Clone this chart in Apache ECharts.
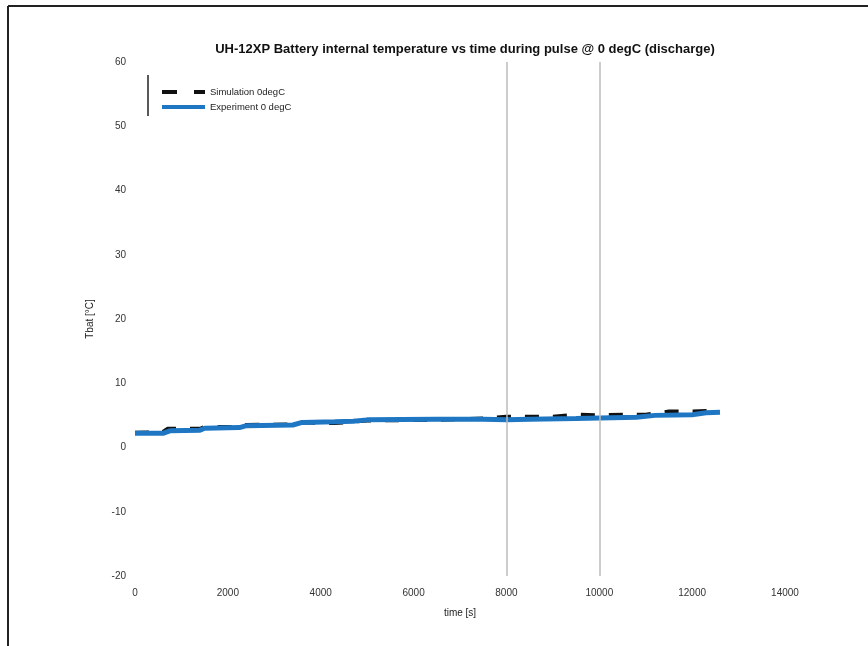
<!DOCTYPE html>
<html><head><meta charset="utf-8">
<script src="https://cdn.jsdelivr.net/npm/echarts@6/dist/echarts.min.js"></script>
<style>html,body{margin:0;padding:0;background:#fff}#c{width:868px;height:646px}</style>
</head><body><div id="c"></div>
<script>
const titleText = 'UH-12XP Battery internal temperature vs time during pulse @ 0 degC (discharge)';
const seriesNames = ['Simulation 0degC', 'Experiment 0 degC'];
const xTicks = [0, 2000, 4000, 6000, 8000, 10000, 12000, 14000];
const yTicks = [-20, -10, 0, 10, 20, 30, 40, 50, 60];
const markTimes = [8000, 10000];
const simulation = [[0,2.3],[600,2.4],[700,2.9],[1400,2.9],[1500,3.2],[2250,3.2],[2400,3.5],[3400,3.6],[3600,3.9],[4300,3.8],[5000,4.2],[6500,4.3],[7500,4.5],[8000,4.8],[8500,4.8],[9000,4.8],[9500,5.1],[10000,5.0],[10500,5.1],[11000,5.1],[11500,5.6],[12000,5.6],[12500,5.7],[12600,5.8]];
const experiment = [[0,2.2],[600,2.2],[750,2.6],[1400,2.7],[1500,3.0],[2250,3.1],[2400,3.4],[3400,3.5],[3600,3.9],[4300,4.0],[4700,4.1],[5000,4.3],[6500,4.4],[7500,4.4],[8000,4.3],[8500,4.4],[9500,4.5],[10000,4.6],[10800,4.7],[11200,5.0],[12000,5.1],[12300,5.4],[12600,5.5]];

const chart = echarts.init(document.getElementById('c'), null, {renderer:'canvas'});
const font = 'Liberation Sans, Arial, sans-serif';
chart.setOption({
  backgroundColor:'#fff',
  animation:false,
  title:{text:titleText, left:460, top:38, textAlign:'center',
    textStyle:{fontFamily:font, fontSize:13, fontWeight:'bold', color:'#111'}},
  legend:{left:157, top:82, orient:'vertical', itemGap:5, itemWidth:43, itemHeight:4,
    textStyle:{fontFamily:font, fontSize:9.5, color:'#222'},
    data:[
      {name:seriesNames[0], icon:'path://M0,0H15V4H0Z M32,0H43V4H32Z', itemStyle:{color:'#111'}},
      {name:seriesNames[1], icon:'rect', itemStyle:{color:'#1f77c4'}}
    ]},
  grid:{left:135, right:83, top:62, bottom:70},
  xAxis:{type:'value', min:xTicks[0], max:xTicks[xTicks.length-1], interval:2000,
    name:'time [s]', nameLocation:'middle', nameGap:32,
    nameTextStyle:{fontFamily:font, fontSize:10, color:'#222'},
    axisLine:{show:false}, axisTick:{show:false}, splitLine:{show:false},
    axisLabel:{fontFamily:font, fontSize:10, color:'#333', margin:12, formatter:v=>String(v)}},
  yAxis:{type:'value', min:yTicks[0], max:yTicks[yTicks.length-1], interval:10,
    name:'Tbat [°C]', nameLocation:'middle', nameGap:40,
    nameTextStyle:{fontFamily:font, fontSize:10, color:'#222'},
    axisLine:{show:false}, axisTick:{show:false}, splitLine:{show:false},
    axisLabel:{fontFamily:font, fontSize:10, color:'#333', margin:9}},
  series:[
    {name:seriesNames[1], type:'line', data:experiment, symbol:'none', z:2,
      lineStyle:{color:'#1f77c4', width:5}, itemStyle:{color:'#1f77c4'},
      markLine:{silent:true, symbol:'none', label:{show:false},
        lineStyle:{color:'#bbb', width:1.5, type:'solid'},
        data:markTimes.map(t=>({xAxis:t}))}},
    {name:seriesNames[0], type:'line', data:simulation, symbol:'none', z:1,
      lineStyle:{color:'#111', width:4, type:[14,14]}, itemStyle:{color:'#111'}}
  ],
  graphic:[
    {type:'line', shape:{x1:8,y1:6,x2:868,y2:6}, style:{stroke:'#222', lineWidth:2}},
    {type:'line', shape:{x1:8,y1:6,x2:8,y2:646}, style:{stroke:'#222', lineWidth:2}},
    {type:'line', shape:{x1:148,y1:75,x2:148,y2:116}, style:{stroke:'#222', lineWidth:1.5}}
  ]
});
</script></body></html>
